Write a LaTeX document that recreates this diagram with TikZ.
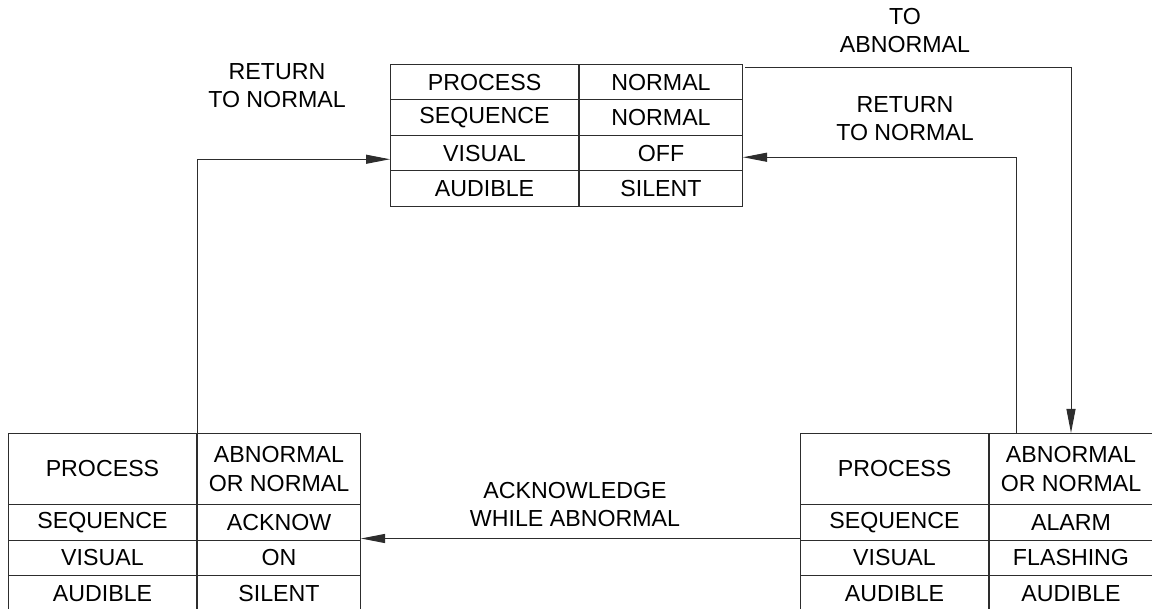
\documentclass[tikz,border=0pt]{standalone}
\usepackage{fontspec}
\setmainfont{Liberation Sans}
\usetikzlibrary{arrows.meta}
\definecolor{linegray}{RGB}{45,45,45}
\tikzset{
  cell/.style={draw=linegray, line width=1pt, inner sep=0pt, minimum height=35.5, anchor=north west, align=center},
  lbl/.style={inner sep=0pt, anchor=south, align=center},
  flow/.style={draw=linegray, line width=1pt, -{Triangle[length=24pt,width=9pt]}}
}
\newcommand{\statetable}[4]{
  \node[cell, minimum width=188, minimum height=71] (#1-1-l) at (#2,#3) {PROCESS};
  \node[cell, minimum width=163, minimum height=71] (#1-1-r) at (#1-1-l.north east) {ABNORMAL\\OR NORMAL};
  \foreach \lft/\rgt [count=\i from 2] in {#4}{
    \node[cell, minimum width=188] (#1-\i-l) at (#2,{#3+71+35.5*(\i-2)}) {\lft};
    \node[cell, minimum width=163] (#1-\i-r) at (#1-\i-l.north east) {\rgt};
  }
}

\begin{document}
\begin{tikzpicture}[x=1pt, y=-1pt, font=\fontsize{23.2}{28.5}\selectfont]
\useasboundingbox (0,0) rectangle (1152,609);
% normal state
\foreach \lft/\rgt [count=\i] in {PROCESS/NORMAL,SEQUENCE/NORMAL,VISUAL/OFF,AUDIBLE/SILENT}{
  \node[cell, minimum width=188] (norm-\i-l) at (390,{64+35.5*(\i-1)}) {\lft};
  \node[cell, minimum width=163] (norm-\i-r) at (norm-\i-l.north east) {\rgt};
}
% acknowledged and alarm states
\statetable{ack}{8}{433}{SEQUENCE/ACKNOW,VISUAL/ON,AUDIBLE/SILENT}
\statetable{alarm}{800}{433}{SEQUENCE/ALARM,VISUAL/FLASHING,AUDIBLE/AUDIBLE}
% transitions
\draw[flow] ([xshift=2pt,yshift=-4pt]norm-1-r.north east) -| (alarm-1-r.north);
\draw[flow] ([xshift=27pt]alarm-1-r.north west) |- ([yshift=-4pt]norm-3-r.east);
\draw[flow] (ack-1-l.north east) |- ([yshift=-6pt]norm-3-l.west);
\draw[flow] ([yshift=2pt]alarm-2-l.south west) -- ([yshift=2pt]ack-2-r.south east);
\node[lbl] (toab) at (905,53) {TO\\ABNORMAL};
\node[lbl] (rtn-r) at (905,141) {RETURN\\TO NORMAL};
\node[lbl] (rtn-l) at (277,108) {RETURN\\TO NORMAL};
\node[lbl] (ackw) at (575,527) {ACKNOWLEDGE\\WHILE ABNORMAL};
\end{tikzpicture}
\end{document}
